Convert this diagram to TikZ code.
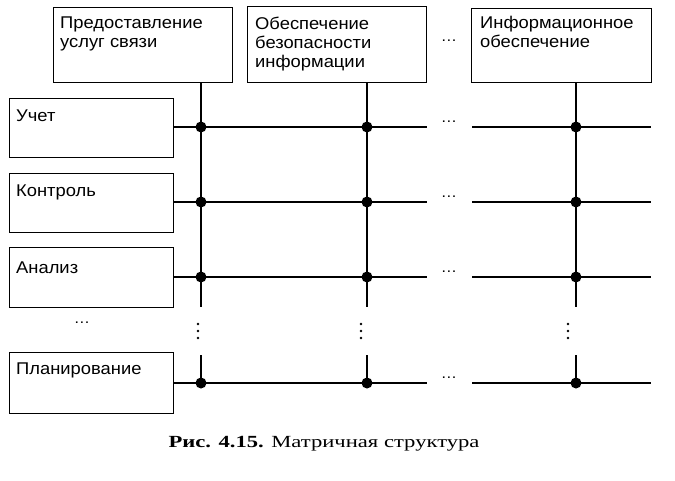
\documentclass[tikz,border=0pt]{standalone}
\usepackage{fontspec}
\setmainfont{Liberation Serif}[FakeStretch=1.33]
\newfontfamily\boxfont{Liberation Sans}[FakeStretch=1.08]
\begin{document}
\begin{tikzpicture}[x=1pt,y=-1pt,
  boxst/.style={draw,line width=1pt,inner sep=0pt,anchor=north west},
  lbl/.style={anchor=base west,inner sep=0pt,font=\boxfont\fontsize{17}{19}\selectfont,align=left},
  gridln/.style={line width=1.5pt},
  junct/.style={circle,fill=black,inner sep=0pt,minimum size=11pt},
  hdots/.style={inner sep=0pt,font=\boxfont\fontsize{15}{17}\selectfont}]
\useasboundingbox (0,0) rectangle (675,480);
% column boxes
\node[boxst,minimum width=179pt,minimum height=75pt] (c1) at (53,7) {};
\node[boxst,minimum width=179pt,minimum height=76pt] (c2) at (247,6) {};
\node[boxst,minimum width=180pt,minimum height=74pt] (c3) at (471,8) {};
\node[lbl] (c1t) at (60,47) {Предоставление\\услуг связи};
\node[lbl] (c2t) at (255,67) {Обеспечение\\безопасности\\информации};
\node[lbl] (c3t) at (480,47) {Информационное\\обеспечение};
\node[hdots] (ct) at (449,41) {\ldots};
% row boxes
\node[boxst,minimum width=164pt,minimum height=59pt] (r1) at (9,98) {};
\node[boxst,minimum width=164pt,minimum height=59pt] (r2) at (9,173) {};
\node[boxst,minimum width=164pt,minimum height=60pt] (r3) at (9,247) {};
\node[boxst,minimum width=164pt,minimum height=61pt] (r4) at (9,352) {};
\node[lbl] (r1t) at (16,121) {Учет};
\node[lbl] (r2t) at (16,196) {Контроль};
\node[lbl] (r3t) at (16,273) {Анализ};
\node[lbl] (r4t) at (16,374) {Планирование};
\node[hdots] (rd) at (82,323) {\ldots};
% column x positions
\foreach \n/\x in {1/201,2/367,3/576}{
  \coordinate (vt\n) at (\x,82);
  \coordinate (vm\n) at (\x,307);
  \coordinate (vn\n) at (\x,355);
  \coordinate (vb\n) at (\x,383);
}
\draw[line width=1.1pt] (vt1) -- (vm1) (vn1) -- (vb1);
\draw[line width=1.6pt] (vt2) -- (vm2) (vn2) -- (vb2);
\draw[line width=1.3pt] (vt3) -- (vm3) (vn3) -- (vb3);
% vertical dots
\foreach \n/\x in {1/198,2/361,3/568}{
  \foreach \yy in {324,331,338}{
    \fill (\x,\yy) circle (1.3pt);
  }
}
% rows
\foreach \n/\y in {1/127,2/202,3/277,4/383}{
  \coordinate (ha\n) at (427,\y);
  \coordinate (hb\n) at (472,\y);
  \coordinate (he\n) at (651,\y);
  \draw[gridln] (r\n.east |- ha\n) -- (ha\n);
  \draw[gridln] (hb\n) -- (he\n);
  \node[hdots] (hd\n) at (449,\y-5) {\ldots};
  \node[junct] (j1\n) at (201,\y) {};
  \node[junct] (j2\n) at (367,\y) {};
  \node[junct] (j3\n) at (576,\y) {};
}
% caption
\node[anchor=base,inner sep=0pt,font=\fontsize{17}{19}\selectfont] (cap) at (324,447) {\textbf{Рис. 4.15.} Матричная структура};
\end{tikzpicture}
\end{document}
